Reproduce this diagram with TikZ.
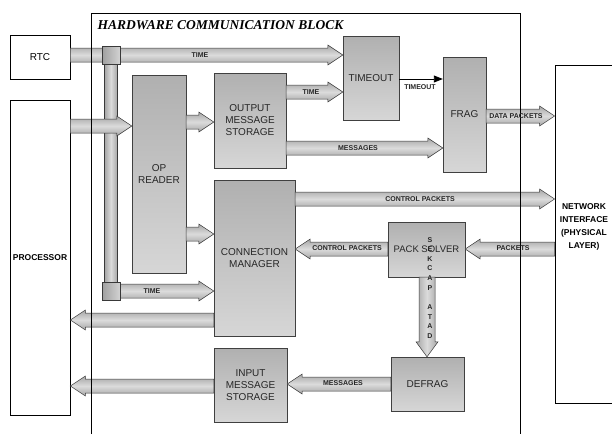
\documentclass[tikz,border=0pt]{standalone}
\usepackage{fontspec}
\setmainfont{Liberation Sans}
\newfontfamily\titlefont{Liberation Serif}
\usetikzlibrary{calc,arrows.meta}

\newcommand{\hfat}[4][]{%
  \path[fatbar,#1] let \p1=(#3 |- 0,#2), \p2=(#4 |- 0,#2),
    \n1={ifthenelse(\x2>\x1,1,-1)*15} in
    (\x1,\y1+7) -- (\x2-\n1,\y1+7) -- (\x2-\n1,\y1+10) -- (\x2,\y1)
    -- (\x2-\n1,\y1-10) -- (\x2-\n1,\y1-7) -- (\x1,\y1-7) -- cycle;}
\newcommand{\vfat}[4][]{%
  \path[fatbar,shading angle=90,#1] let \p1=(#2,0 |- #3), \p2=(#2,0 |- #4),
    \n1={ifthenelse(\y2>\y1,1,-1)*15} in
    (\x1+8,\y1) -- (\x1+8,\y2-\n1) -- (\x1+11,\y2-\n1) -- (\x1,\y2)
    -- (\x1-11,\y2-\n1) -- (\x1-8,\y2-\n1) -- (\x1-8,\y1) -- cycle;}

\begin{document}
\begin{tikzpicture}[x=1pt, y=-1pt,
    frame/.style={draw=black, fill=white, line width=0.8pt, inner sep=0pt},
    box/.style={draw=gray!50!black, top color=gray!62, bottom color=gray!32,
      inner sep=0pt, align=center, text=black!85, font=\fontsize{10}{12}\selectfont},
    fatbar/.style={draw=gray!45!black, line width=0.5pt, top color=gray!70,
      bottom color=gray!70, middle color=gray!28},
    junction/.style={draw=gray!45!black, line width=0.5pt, minimum size=18pt,
      inner sep=0pt, shading angle=45, left color=gray!75, right color=gray!35},
    barlabel/.style={inner sep=0pt, text=black!85, font=\bfseries\fontsize{7}{10}\selectfont},
    sidelabel/.style={align=center, font=\bfseries\fontsize{8.5}{13}\selectfont}]

    \path[use as bounding box, clip] (0,0) rectangle (612,434);

    \node[frame, minimum width=60pt, minimum height=44pt] (rtc) at (40,57) {};
    \node[frame, minimum width=60pt, minimum height=315pt] (prc) at (40,257.5) {};
    \node[frame, minimum width=59pt, minimum height=338pt] (ni) at (584.5,234) {};

    \node[box, minimum width=54pt, minimum height=198pt] (opr) at (159,174) {OP\\READER};
    \node[box, minimum width=72pt, minimum height=95pt] (oms) at (250,120.5) {OUTPUT\\MESSAGE\\STORAGE};
    \node[box, minimum width=81pt, minimum height=156pt] (cm) at (254.5,258) {CONNECTION\\MANAGER};
    \node[box, minimum width=73pt, minimum height=74pt] (ims) at (250.5,385) {INPUT\\MESSAGE\\STORAGE};
    \node[box, minimum width=56pt, minimum height=84pt] (timeout) at (371,78) {TIMEOUT};
    \node[box, minimum width=43pt, minimum height=115pt] (frag) at (464.5,114.5) {FRAG};
    \node[box, minimum width=77pt, minimum height=55pt, font=\fontsize{9.5}{11}\selectfont] (ps) at (426.5,249.5) {PACK SOLVER};
    \node[box, minimum width=73pt, minimum height=54pt] (defrag) at (427.5,384) {DEFRAG};

    \coordinate (jtop) at (111,55);
    \coordinate (jbot) at (111,291);

    \hfat{55}{rtc.east}{timeout.west}
    \path[fatbar, shading angle=90] ($(jtop)+(-6.5,0)$) rectangle ($(jbot)+(6.5,0)$);
    \hfat{291}{jbot}{cm.west}
    \hfat{126}{prc.east}{opr.west}
    \hfat{122}{opr.east}{oms.west}
    \hfat{234}{opr.east}{cm.west}
    \hfat{92}{oms.east}{timeout.west}
    \hfat{148}{oms.east}{frag.west}
    \hfat{116}{frag.east}{ni.west}
    \hfat{199}{cm.east}{ni.west}
    \hfat{249}{ni.west}{ps.east}
    \hfat{249}{ps.west}{cm.east}
    \vfat{427}{ps.south}{defrag.north}
    \hfat{384}{defrag.west}{ims.east}
    \hfat{320}{cm.west}{prc.east}
    \hfat{386}{ims.west}{prc.east}

    \node[junction] (jt) at (jtop) {};
    \node[junction] (jb) at (jbot) {};

    \draw[line width=0.9pt, -{Triangle[length=9pt,width=7pt]}] (timeout.east |- 0,79) -- (frag.west |- 0,79);

    \draw[line width=0.8pt] (91,434) -- (91,13) -- (520,13) -- (520,434);

    \node[anchor=west, font=\titlefont\bfseries\itshape\fontsize{13.5}{15}\selectfont] (title) at (94,25) {HARDWARE COMMUNICATION BLOCK};
    \node[font=\fontsize{10}{12}\selectfont] (rtctxt) at (rtc) {RTC};
    \node[sidelabel] (prctxt) at (prc) {PROCESSOR};
    \node[sidelabel] (nitxt) at (584,227) {NETWORK\\INTERFACE\\(PHYSICAL\\LAYER)};

    \node[barlabel] (ltime1) at (200,55) {TIME};
    \node[barlabel] (ltime2) at (311,92) {TIME};
    \node[barlabel] (ltime3) at (152,291) {TIME};
    \node[barlabel] (lmsg1) at (358,148) {MESSAGES};
    \node[barlabel] (lto) at (420,87) {TIMEOUT};
    \node[barlabel] (ldata1) at (516,116) {DATA PACKETS};
    \node[barlabel] (lctrl1) at (420,199) {CONTROL PACKETS};
    \node[barlabel] (lpack) at (513,248) {PACKETS};
    \node[barlabel] (lctrl2) at (347,248) {CONTROL PACKETS};
    \node[barlabel] (lmsg2) at (343,383) {MESSAGES};
    \node[barlabel, anchor=north, align=center, font=\bfseries\fontsize{7}{9.6}\selectfont] (ldata2) at (430,237) {S\\E\\K\\C\\A\\P\\[10pt]A\\T\\A\\D};
  \end{tikzpicture}
\end{document}
